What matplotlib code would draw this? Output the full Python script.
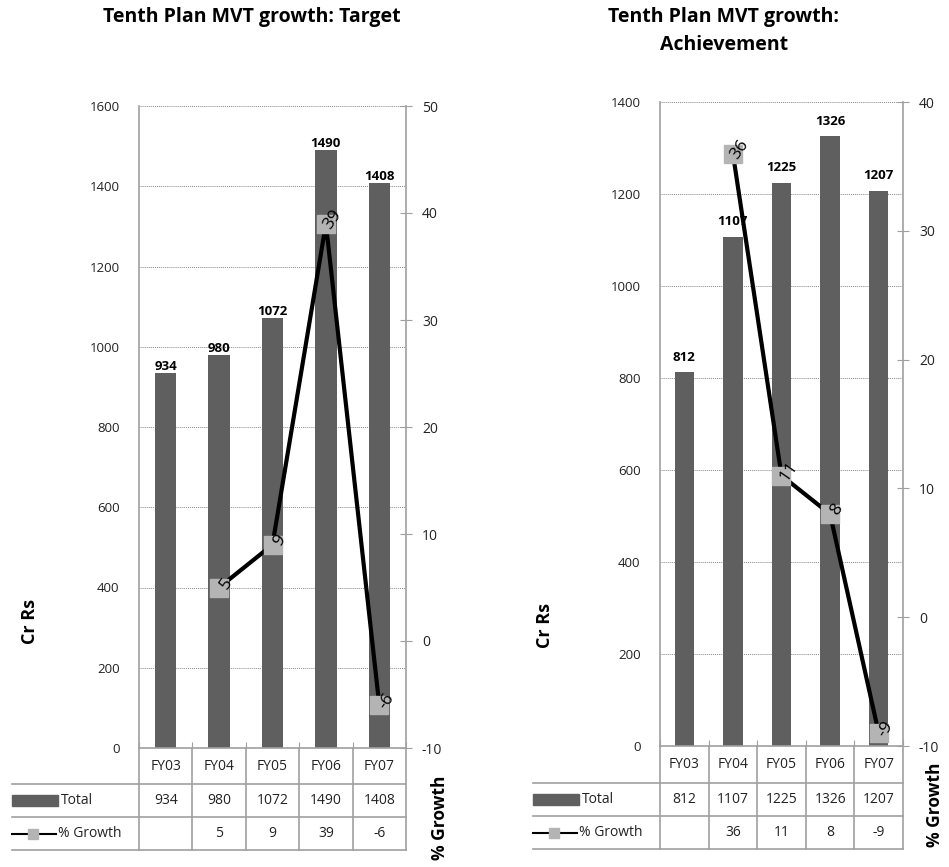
import matplotlib
matplotlib.use('Agg')
import matplotlib.pyplot as plt
from matplotlib.patches import Rectangle
from matplotlib.lines import Line2D
import matplotlib.transforms as mtransforms

plt.rcParams['font.family'] = ['Open Sans', 'DejaVu Sans']

years = ['FY03', 'FY04', 'FY05', 'FY06', 'FY07']
target_total = [934, 980, 1072, 1490, 1408]
target_growth = [None, 5, 9, 39, -6]
achieve_total = [812, 1107, 1225, 1326, 1207]
achieve_growth = [None, 36, 11, 8, -9]

W, H = 949, 867
fig = plt.figure(figsize=(W / 100, H / 100), dpi=100)

BAR = '#5f5f5f'
MARK = '#b4b4b4'
GRID = '#a0a0a0'
TXT = '#222222'


def panel(l, t, r, b, label_left, rows_px, totals, growth, ylim, yticks,
          y2lim, y2ticks, bar_off):
    ax = fig.add_axes([l / W, 1 - b / H, (r - l) / W, (b - t) / H])
    hpx = b - t
    wpx = r - l
    x = list(range(len(years)))
    ax.bar(x, totals, width=0.4, color=BAR, zorder=2)
    for xi, v in zip(x, totals):
        ax.annotate(str(v), (xi, v), xytext=(0, bar_off), textcoords='offset points',
                    ha='center', va='bottom', fontsize=9.5, fontweight='bold', zorder=5)
    ax.set_xlim(-0.5, len(years) - 0.5)
    ax.set_ylim(*ylim)
    ax.set_yticks(yticks)
    ax.set_yticklabels([str(v) for v in yticks], fontsize=9.5, color=TXT)
    ax.tick_params(axis='y', length=0, pad=14)
    ax.set_xticks([i - 0.5 for i in range(len(years) + 1)])
    ax.set_xticklabels([])
    ax.tick_params(axis='x', direction='in', length=4, color=GRID)
    ax.grid(axis='y', linestyle=(0, (1, 1)), color='#8a8a8a', linewidth=0.7, zorder=0)
    ax.set_axisbelow(True)
    for s in ['top', 'right']:
        ax.spines[s].set_visible(False)
    for s in ['left', 'bottom']:
        ax.spines[s].set_color(GRID)
        ax.spines[s].set_linewidth(1.2)

    ax2 = ax.twinx()
    ax2.set_ylim(*y2lim)
    ax2.set_yticks(y2ticks)
    ax2.set_yticklabels([str(v) for v in y2ticks], fontsize=10, color=TXT)
    ax2.tick_params(axis='y', direction='inout', length=9, color=GRID, pad=7)
    for s in ['top', 'left', 'bottom']:
        ax2.spines[s].set_visible(False)
    ax2.spines['right'].set_color(GRID)
    ax2.spines['right'].set_linewidth(1.2)
    gx = [xi for xi, g in zip(x, growth) if g is not None]
    gy = [g for g in growth if g is not None]
    ax2.plot(gx, gy, color='black', linewidth=3, marker='s', markersize=13,
             markerfacecolor=MARK, markeredgecolor=MARK, zorder=4, solid_joinstyle='miter')
    for xi, g in zip(gx, gy):
        ax2.annotate(str(g), (xi, g), xytext=(5, 3), textcoords='offset points',
                     ha='center', va='center', fontsize=12.5, rotation=55, zorder=6)

    # data table
    trans = mtransforms.blended_transform_factory(ax.transData, ax.transAxes)
    ys = [-(rp - b) / hpx for rp in rows_px]  # row bottom lines (axes frac)
    lx = (label_left - l) / wpx
    n = len(years)
    kw = dict(color=GRID, linewidth=1.2, clip_on=False)
    for i in range(n + 1):
        ax.add_line(Line2D([i - 0.5, i - 0.5], [0, ys[-1]], transform=trans, **kw))
    for yv in ys:
        ax.add_line(Line2D([lx, 1], [yv, yv], transform=ax.transAxes, **kw))
    centers = [(0 + ys[0]) / 2, (ys[0] + ys[1]) / 2, (ys[1] + ys[2]) / 2]
    fs = 10
    for i, yr in enumerate(years):
        ax.text(i, centers[0], yr, transform=trans, ha='center', va='center', fontsize=fs, color=TXT)
        ax.text(i, centers[1], str(totals[i]), transform=trans, ha='center', va='center',
                fontsize=fs, color=TXT)
        if growth[i] is not None:
            ax.text(i, centers[2], str(growth[i]), transform=trans, ha='center', va='center',
                    fontsize=fs, color=TXT)
    # legend keys
    sw = 46 / wpx
    sh = 11 / hpx
    ax.add_patch(Rectangle((lx, centers[1] - sh / 2), sw, sh, transform=ax.transAxes,
                           color=BAR, clip_on=False))
    ax.text(lx + sw + 3 / wpx, centers[1], 'Total', transform=ax.transAxes,
            ha='left', va='center', fontsize=fs, color=TXT)
    ax.add_line(Line2D([lx, lx + 44 / wpx], [centers[2], centers[2]], transform=ax.transAxes,
                       color='black', linewidth=1.5, clip_on=False))
    ax.add_line(Line2D([lx + 21 / wpx], [centers[2]], transform=ax.transAxes, marker='s',
                       markersize=7, color=MARK, linestyle='none', clip_on=False))
    ax.text(lx + 46 / wpx, centers[2], '% Growth', transform=ax.transAxes,
            ha='left', va='center', fontsize=fs, color=TXT)
    return ax, ax2


panel(139, 106, 406, 748, 12, [784, 817, 850], target_total, target_growth,
      (0, 1600), list(range(0, 1601, 200)), (-10, 50), list(range(-10, 51, 10)), 0)
panel(660, 102, 903, 746, 533, [783, 816, 849], achieve_total, achieve_growth,
      (0, 1400), list(range(0, 1401, 200)), (-10, 40), list(range(-10, 41, 10)), 6)

fig.text(252 / W, 1 - 17 / H, 'Tenth Plan MVT growth: Target', ha='center', va='center',
         fontsize=14, fontweight='bold')
fig.text(724 / W, 1 - 17 / H, 'Tenth Plan MVT growth:', ha='center', va='center',
         fontsize=14, fontweight='bold')
fig.text(724 / W, 1 - 45 / H, 'Achievement', ha='center', va='center',
         fontsize=14, fontweight='bold')
fig.text(30 / W, 1 - 622 / H, 'Cr Rs', rotation=90, ha='center', va='center',
         fontsize=13, fontweight='bold')
fig.text(545 / W, 1 - 625 / H, 'Cr Rs', rotation=90, ha='center', va='center',
         fontsize=13, fontweight='bold')
fig.text(440 / W, 1 - 818 / H, '% Growth', rotation=90, ha='center', va='center',
         fontsize=12.5, fontweight='bold')
fig.text(935 / W, 1 - 805 / H, '% Growth', rotation=90, ha='center', va='center',
         fontsize=12.5, fontweight='bold')

fig.savefig('out.png', dpi=100)
